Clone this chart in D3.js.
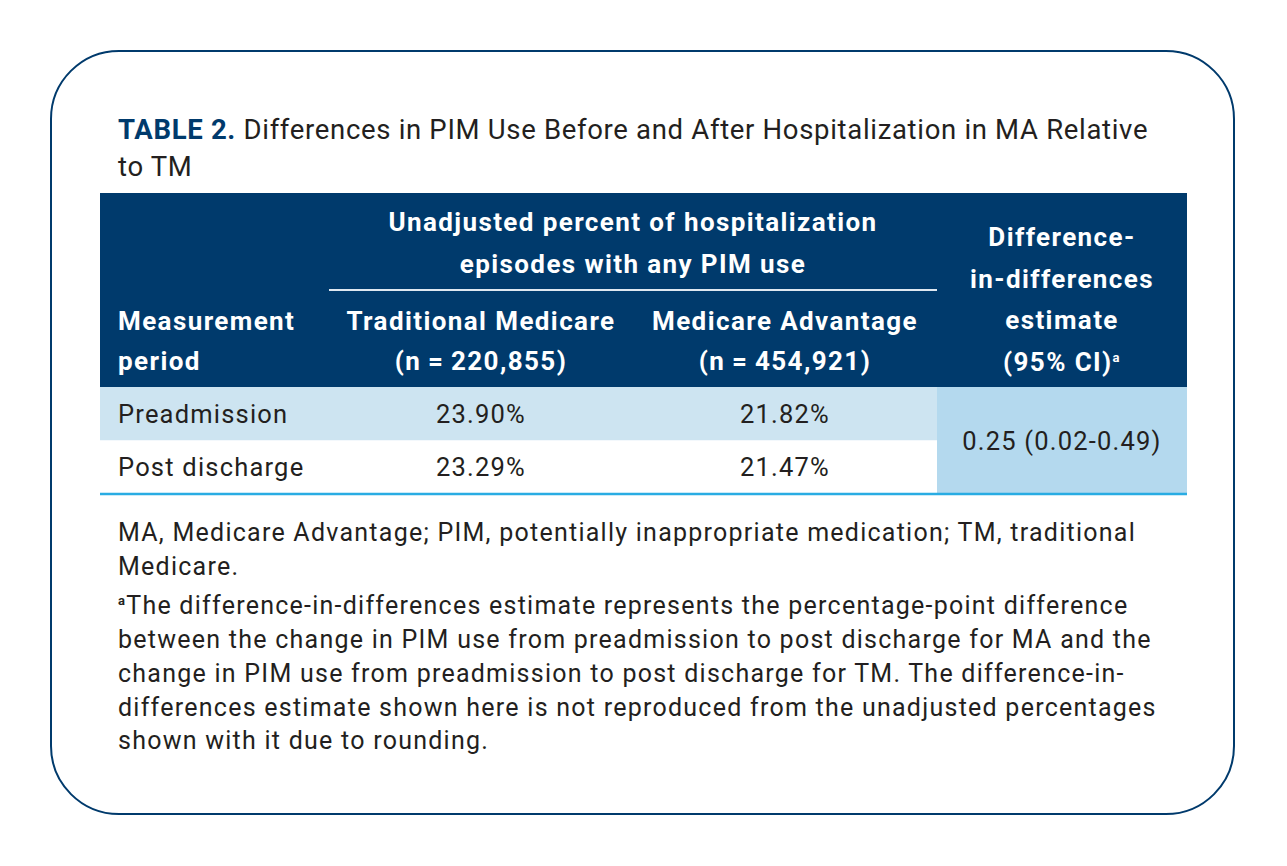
<!DOCTYPE html>
<html>
<head>
<meta charset="utf-8">
<style>
  body { margin: 0; background: #fff; }
  svg text { font-family: "Roboto", "Noto Sans", sans-serif; }
</style>
</head>
<body>
<svg id="table" width="1287" height="866"></svg>

<script src="https://d3js.org/d3.v7.min.js"></script>
<script>
// ---- data ----
var titleLabel = "TABLE 2.";
var titleLines = ["Differences in PIM Use Before and After Hospitalization in MA Relative", "to TM"];

var spanHeader = ["Unadjusted percent of hospitalization", "episodes with any PIM use"];
var firstHeader = ["Measurement", "period"];
var groupHeaders = [
  ["Traditional Medicare", "(n\u2009=\u2009220,855)"],
  ["Medicare Advantage", "(n\u2009=\u2009454,921)"]
];
var didHeader = ["Difference-", "in-differences", "estimate", "(95% CI)"];

var periods = ["Preadmission", "Post discharge"];
var tmValues = ["23.90%", "23.29%"];
var maValues = ["21.82%", "21.47%"];
var didEstimate = "0.25 (0.02-0.49)";

var footnotes = [
  ["MA, Medicare Advantage; PIM, potentially inappropriate medication; TM, traditional", "Medicare."],
  ["The difference-in-differences estimate represents the percentage-point difference",
   "between the change in PIM use from preadmission to post discharge for MA and the",
   "change in PIM use from preadmission to post discharge for TM. The difference-in-",
   "differences estimate shown here is not reproduced from the unadjusted percentages",
   "shown with it due to rounding."]
];

// ---- layout ----
var navy = "#003a6c", ink = "#231f20";
var svg = d3.select("#table");

svg.append("rect")
    .attr("x", 51).attr("y", 51)
    .attr("width", 1183).attr("height", 763)
    .attr("rx", 68).attr("ry", 68)
    .attr("fill", "none")
    .attr("stroke", navy)
    .attr("stroke-width", 2);

// title
var t1 = svg.append("text").attr("x", 118).attr("y", 139)
    .attr("font-size", 27.5).attr("letter-spacing", 0.68).attr("fill", ink);
t1.append("tspan").attr("font-weight", 700).attr("fill", navy).text(titleLabel + " ");
t1.append("tspan").text(titleLines[0]);
svg.append("text").attr("x", 118).attr("y", 176)
    .attr("font-size", 27.5).attr("letter-spacing", 0.68).attr("fill", ink).text(titleLines[1]);

// columns: widths summed into edges
var colWidths = [229, 304, 304, 250];
var colEdges = [100].concat(Array.from(d3.cumsum(colWidths), function(d) { return 100 + d; }));
var colCenter = function(i) { return (colEdges[i] + colEdges[i + 1]) / 2; };
var tableLeft = colEdges[0], tableRight = colEdges[4];

var headTop = 193, headBottom = 387;
var y = d3.scaleBand()
    .domain(periods)
    .range([headBottom, 494]);

// header block
svg.append("rect")
    .attr("x", tableLeft).attr("y", headTop)
    .attr("width", tableRight - tableLeft).attr("height", headBottom - headTop)
    .attr("fill", navy);

var hdr = svg.append("g")
    .attr("fill", "#fff")
    .attr("font-weight", 700)
    .attr("font-size", 26)
    .attr("letter-spacing", 1.4);

hdr.selectAll(".span").data(spanHeader).enter().append("text")
    .attr("x", (colEdges[1] + colEdges[3]) / 2)
    .attr("y", function(d, i) { return 231 + i * 42; })
    .attr("text-anchor", "middle")
    .text(function(d) { return d; });

svg.append("line")
    .attr("x1", colEdges[1]).attr("x2", colEdges[3])
    .attr("y1", 290).attr("y2", 290)
    .attr("stroke", "#dfe8f1").attr("stroke-width", 2);

hdr.selectAll(".first").data(firstHeader).enter().append("text")
    .attr("x", 118)
    .attr("y", function(d, i) { return 330 + i * 40; })
    .text(function(d) { return d; });

groupHeaders.forEach(function(lines, c) {
  hdr.selectAll(".g" + c).data(lines).enter().append("text")
      .attr("x", colCenter(c + 1))
      .attr("y", function(d, i) { return 330 + i * 40; })
      .attr("text-anchor", "middle")
      .text(function(d) { return d; });
});

var didText = hdr.selectAll(".did").data(didHeader).enter().append("text")
    .attr("x", colCenter(3))
    .attr("y", function(d, i) { return 246 + i * 41.5; })
    .attr("text-anchor", "middle")
    .text(function(d) { return d; });
didText.filter(function(d, i) { return i === didHeader.length - 1; })
  .append("tspan")
    .attr("font-size", 13).attr("dy", -9).text("a");

// body rows
svg.selectAll(".rowbg").data(periods).enter().append("rect")
    .attr("x", tableLeft).attr("y", function(d) { return y(d); })
    .attr("width", colEdges[3] - tableLeft).attr("height", y.bandwidth())
    .attr("fill", function(d, i) { return i === 0 ? "#cde4f1" : "#fff"; });

svg.append("rect")
    .attr("x", colEdges[3]).attr("y", y.range()[0])
    .attr("width", colEdges[4] - colEdges[3]).attr("height", y.range()[1] - y.range()[0])
    .attr("fill", "#b4d9ee");

var body = svg.append("g").attr("font-size", 25.5).attr("letter-spacing", 1.2).attr("fill", ink);
var rows = body.selectAll(".row").data(periods).enter().append("g")
    .attr("transform", function(d) { return "translate(0," + (y(d) + y.bandwidth() / 2 + 9) + ")"; });
rows.append("text").attr("x", 118).text(function(d) { return d; });
rows.append("text").attr("x", colCenter(1)).attr("text-anchor", "middle")
    .text(function(d, i) { return tmValues[i]; });
rows.append("text").attr("x", colCenter(2)).attr("text-anchor", "middle")
    .text(function(d, i) { return maValues[i]; });
body.append("text")
    .attr("x", colCenter(3)).attr("y", (y.range()[0] + y.range()[1]) / 2 + 9)
    .attr("text-anchor", "middle")
    .text(didEstimate);

svg.append("line")
    .attr("x1", tableLeft).attr("x2", tableRight)
    .attr("y1", y.range()[1]).attr("y2", y.range()[1])
    .attr("stroke", "#29ace3").attr("stroke-width", 2.5);

// footnotes
var foot = svg.append("g").attr("font-size", 25).attr("letter-spacing", 1.25).attr("fill", ink);
var fy = 541;
footnotes.forEach(function(block, b) {
  block.forEach(function(line, i) {
    var t = foot.append("text").attr("x", 118).attr("y", fy);
    if (b === 1 && i === 0) {
      t.append("tspan").attr("font-size", 13).attr("font-weight", 700).attr("dy", -9).text("a");
      t.append("tspan").attr("dy", 9).text(line);
    } else {
      t.text(line);
    }
    fy += 33.7;
  });
  fy += 6;
});
</script>
</body>
</html>
